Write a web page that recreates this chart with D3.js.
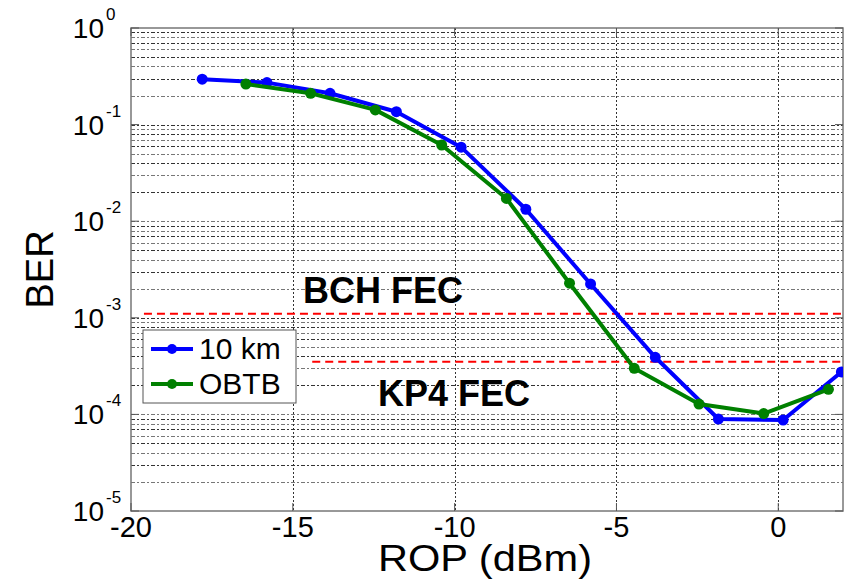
<!DOCTYPE html>
<html>
<head>
<meta charset="utf-8">
<script src="https://cdn.jsdelivr.net/npm/d3@7/dist/d3.min.js"></script>
<style>
  html, body { margin: 0; padding: 0; background: #fff; }
  svg { display: block; font-family: "Liberation Sans", Arial, sans-serif; }
</style>
</head>
<body>
<svg id="chart" width="844" height="580"></svg>
<script>
// ---- data ----
const rop10km = [-17.8, -15.8, -13.85, -11.8, -9.8, -7.8, -5.8, -3.8, -1.85, 0.15, 1.95];
const ber10km = [0.295, 0.272, 0.211, 0.136, 0.0584, 0.0133, 2.24e-3, 3.9e-4, 8.95e-5, 8.75e-5, 2.75e-4];
const ropObtb = [-16.45, -14.45, -12.45, -10.4, -8.4, -6.45, -4.45, -2.45, -0.45, 1.55];
const berObtb = [0.263, 0.211, 0.142, 0.0615, 0.0172, 2.28e-3, 3.0e-4, 1.28e-4, 1.02e-4, 1.82e-4];
const xTicks = [-20, -15, -10, -5, 0];
const yExponents = [0, -1, -2, -3, -4, -5];
const fecNames = ["BCH FEC", "KP4 FEC"];
const fecLevels = [1.1e-3, 3.5e-4];
const fecStart = [-19.6, -14.4];
const seriesNames = ["10 km", "OBTB"];

// ---- layout ----
const svg = d3.select("#chart");
const L = 131, R = 843, T = 28, B = 511;
const x = d3.scaleLinear().domain([-20, 2]).range([L, R]);
const y = d3.scaleLog().domain([1e-5, 1]).range([B, T]);

svg.append("defs").append("clipPath").attr("id", "clip")
  .append("rect").attr("x", L).attr("y", T).attr("width", R - L).attr("height", B - T);

// horizontal grid (major + minor)
const gridVals = [];
for (let k = -5; k < 0; k++) {
  for (let m = 1; m <= 9; m++) gridVals.push(m * Math.pow(10, k));
}
const grid = svg.append("g");
grid.selectAll("line.h").data(gridVals.filter(v => v > 1e-5)).enter().append("line")
  .attr("x1", L).attr("x2", R)
  .attr("y1", d => Math.round(y(d)) + 0.5).attr("y2", d => Math.round(y(d)) + 0.5)
  .attr("stroke", (d, i) => i % 2 ? "#333" : "#777")
  .attr("stroke-width", 1)
  .attr("stroke-dasharray", "4,2,2,2");
// vertical grid
grid.selectAll("line.v").data(xTicks.filter(v => v > -20)).enter().append("line")
  .attr("y1", T).attr("y2", B)
  .attr("x1", d => Math.round(x(d)) + 0.5).attr("x2", d => Math.round(x(d)) + 0.5)
  .attr("stroke", "#333").attr("stroke-width", 1)
  .attr("stroke-dasharray", "2,2");

// FEC threshold lines
svg.append("g").selectAll("line").data(fecLevels).enter().append("line")
  .attr("x1", (d, i) => x(fecStart[i])).attr("x2", R)
  .attr("y1", d => y(d)).attr("y2", d => y(d))
  .attr("stroke", "#ff0000").attr("stroke-width", 2)
  .attr("stroke-dasharray", "8,5");

// axes box
svg.append("rect").attr("x", L).attr("y", T).attr("width", R - L).attr("height", B - T)
  .attr("fill", "none").attr("stroke", "#777").attr("stroke-width", 1.5);

// ticks (inside)
const tk = svg.append("g").attr("stroke", "#555").attr("stroke-width", 1);
xTicks.forEach(v => {
  tk.append("line").attr("x1", x(v)).attr("x2", x(v)).attr("y1", B).attr("y2", B - 8);
  tk.append("line").attr("x1", x(v)).attr("x2", x(v)).attr("y1", T).attr("y2", T + 8);
});
yExponents.forEach(e => {
  const yy = y(Math.pow(10, e));
  tk.append("line").attr("x1", L).attr("x2", L + 8).attr("y1", yy).attr("y2", yy);
  tk.append("line").attr("x1", R).attr("x2", R - 8).attr("y1", yy).attr("y2", yy);
});

// x tick labels
svg.append("g").selectAll("text").data(xTicks).enter().append("text")
  .attr("x", d => x(d)).attr("y", 537)
  .attr("text-anchor", "middle").attr("font-size", 29).attr("fill", "#000")
  .text(d => d === 0 ? "0" : "-" + Math.abs(d));

// y tick labels 10^e
const yl = svg.append("g").selectAll("g").data(yExponents).enter().append("g");
yl.append("text")
  .attr("x", 104).attr("y", d => y(Math.pow(10, d)) + 10)
  .attr("text-anchor", "end").attr("font-size", 28).attr("fill", "#000")
  .text("10");
yl.append("text")
  .attr("x", 106).attr("y", d => y(Math.pow(10, d)) - 8)
  .attr("text-anchor", "start").attr("font-size", 17).attr("fill", "#000")
  .text(d => d === 0 ? "0" : "-" + Math.abs(d));

// axis titles
svg.append("text").attr("x", (L + R) / 2 - 2).attr("y", 571)
  .attr("text-anchor", "middle").attr("font-size", 36).attr("fill", "#000")
  .attr("textLength", 214).attr("lengthAdjust", "spacingAndGlyphs")
  .text("ROP (dBm)");
svg.append("text").attr("transform", "translate(53," + ((T + B) / 2) + ") rotate(-90)")
  .attr("text-anchor", "middle").attr("font-size", 38).attr("fill", "#000")
  .text("BER");

// series
const series = [
  { name: seriesNames[0], xs: rop10km, ys: ber10km, color: "#0000ff" },
  { name: seriesNames[1], xs: ropObtb, ys: berObtb, color: "#008000" }
];
const plot = svg.append("g").attr("clip-path", "url(#clip)");
const line = d3.line().x(d => x(d[0])).y(d => y(d[1]));
series.forEach(s => {
  const pts = s.xs.map((v, i) => [v, s.ys[i]]);
  plot.append("path").attr("d", line(pts)).attr("fill", "none")
    .attr("stroke", s.color).attr("stroke-width", 4).attr("stroke-linejoin", "round");
  plot.selectAll(null).data(pts).enter().append("circle")
    .attr("cx", d => x(d[0])).attr("cy", d => y(d[1])).attr("r", 5.5)
    .attr("fill", s.color);
});

// FEC labels
svg.append("text").attr("x", 303).attr("y", 303).attr("font-size", 36)
  .attr("font-weight", "bold").attr("fill", "#000").text(fecNames[0]);
svg.append("text").attr("x", 378).attr("y", 406).attr("font-size", 36)
  .attr("font-weight", "bold").attr("fill", "#000").text(fecNames[1]);

// legend
const lg = svg.append("g");
lg.append("rect").attr("x", 143).attr("y", 330).attr("width", 153).attr("height", 73)
  .attr("fill", "#fff").attr("stroke", "#555").attr("stroke-width", 1);
series.forEach((s, i) => {
  const yy = 349 + i * 35;
  lg.append("line").attr("x1", 151).attr("x2", 193).attr("y1", yy).attr("y2", yy)
    .attr("stroke", s.color).attr("stroke-width", 4);
  lg.append("circle").attr("cx", 172).attr("cy", yy).attr("r", 5).attr("fill", s.color);
  lg.append("text").attr("x", 199).attr("y", yy + 10).attr("font-size", 30)
    .attr("fill", "#000").text(s.name);
});
</script>
</body>
</html>
